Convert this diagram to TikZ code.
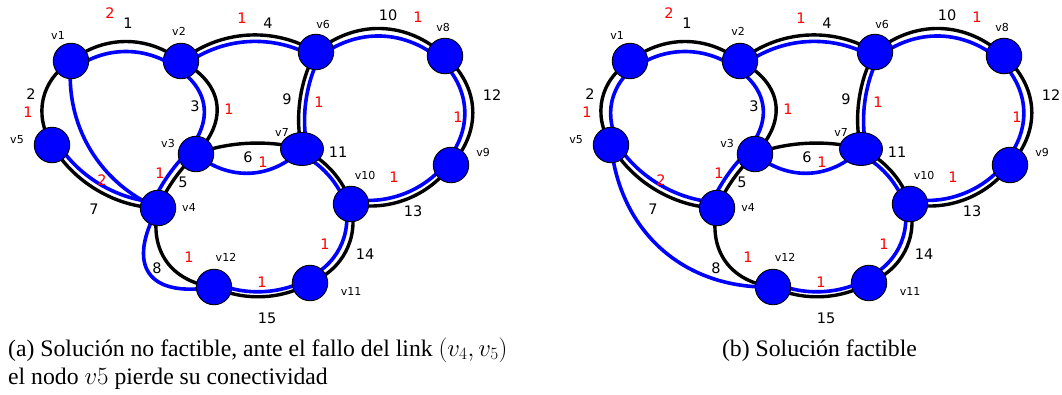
\documentclass[tikz,border=0pt]{standalone}
\usepackage{fontspec}
\setmainfont{Liberation Serif}
\newfontfamily\djv{DejaVu Sans}
\usetikzlibrary{calc,shapes.geometric}
\pgfdeclarelayer{back}
\pgfdeclarelayer{bg}
\pgfsetlayers{back,bg,main}
\definecolor{pblue}{RGB}{0,0,255}
\definecolor{pred}{RGB}{255,0,0}
\tikzset{
  vtx/.style={circle, fill=pblue, draw=black, line width=0.9pt, minimum size=35.5pt, inner sep=0pt},
  vtxe/.style={ellipse, fill=pblue, draw=black, line width=0.9pt, minimum width=43pt, minimum height=33pt, inner sep=0pt},
  vlab/.style={font=\djv\fontsize{11}{13}\selectfont, inner sep=0pt},
  elab/.style={font=\djv\fontsize{14.5}{17}\selectfont, inner sep=0pt},
  rlab/.style={elab, text=pred},
  captxt/.style={font=\fontsize{23.7}{28.4}\selectfont, inner sep=0pt},
  blk/.style={draw=black, line width=3.4pt},
  blu/.style={draw=pblue, line width=3.6pt},
  pc/.style 2 args={to path={($(\tikztostart)!#2!90:(\tikztotarget)$) .. controls ($(\tikztostart)!0.3!(\tikztotarget)!#1!90:(\tikztotarget)$) and ($(\tikztotarget)!0.3!(\tikztostart)!#1!-90:(\tikztostart)$) .. ($(\tikztotarget)!#2!-90:(\tikztostart)$)}},
}
\newcommand{\basegraph}[1]{%
  \node[vtx] (#1v1) at (71,61) {};
  \node[vtx] (#1v2) at (181,61) {};
  \node[vtx] (#1v3) at (196,154) {};
  \node[vtx] (#1v4) at (158,208) {};
  \node[vtx] (#1v5) at (52,145) {};
  \node[vtx] (#1v6) at (316,52) {};
  \node[vtxe] (#1v7) at (302,149) {};
  \node[vtx] (#1v8) at (445,56) {};
  \node[vtx] (#1v9) at (451,165) {};
  \node[vtx] (#1v10) at (351,204) {};
  \node[vtx] (#1v11) at (310,283) {};
  \node[vtx] (#1v12) at (214,287) {};
  % vertex labels
  \node[vlab] (#1l1) at (58,35) {v1};
  \node[vlab] (#1l2) at (179,31) {v2};
  \node[vlab] (#1l3) at (168,143) {v3};
  \node[vlab] (#1l4) at (189,207) {v4};
  \node[vlab] (#1l5) at (17,140) {v5};
  \node[vlab] (#1l6) at (323,24) {v6};
  \node[vlab] (#1l7) at (282,132) {v7};
  \node[vlab] (#1l8) at (443,27) {v8};
  \node[vlab] (#1l9) at (483,152) {v9};
  \node[vlab] (#1l10) at (365,175) {v10};
  \node[vlab] (#1l11) at (351,291) {v11};
  \node[vlab] (#1l12) at (226,257) {v12};
  % edge labels
  \node[elab] (#1e1) at (128,23) {1};
  \node[elab] (#1e2) at (31,94) {2};
  \node[elab] (#1e3) at (195,106) {3};
  \node[elab] (#1e4) at (268,23) {4};
  \node[elab] (#1e5) at (183,182) {5};
  \node[elab] (#1e6) at (248,157) {6};
  \node[elab] (#1e7) at (94,209) {7};
  \node[elab] (#1e8) at (157,268) {8};
  \node[elab] (#1e9) at (287,99) {9};
  \node[elab] (#1e10) at (388,15) {10};
  \node[elab] (#1e11) at (338,152) {11};
  \node[elab] (#1e12) at (492,95) {12};
  \node[elab] (#1e13) at (413,211) {13};
  \node[elab] (#1e14) at (365,254) {14};
  \node[elab] (#1e15) at (267,318) {15};
  % red labels
  \node[rlab] (#1r1) at (110,13) {2};
  \node[rlab] (#1r2) at (28,112) {1};
  \node[rlab] (#1r3) at (229,109) {1};
  \node[rlab] (#1r4) at (242,18) {1};
  \node[rlab] (#1r5) at (160,173) {1};
  \node[rlab] (#1r6) at (263,162) {1};
  \node[rlab] (#1r7) at (102,180) {2};
  \node[rlab] (#1r8) at (189,257) {1};
  \node[rlab] (#1r9) at (319,102) {1};
  \node[rlab] (#1r10) at (418,17) {1};
  \node[rlab] (#1r12) at (458,117) {1};
  \node[rlab] (#1r13) at (394,177) {1};
  \node[rlab] (#1r14) at (325,244) {1};
  \node[rlab] (#1r15) at (262,282) {1};
  \begin{pgfonlayer}{bg}
    \draw[blk] (#1v1.center) to[pc={26pt}{0pt}] (#1v2.center);
    \draw[blk] (#1v1.center) to[pc={-25pt}{0pt}] (#1v5.center);
    \draw[blk] (#1v2.center) to[pc={38pt}{0pt}] (#1v3.center);
    \draw[blk] (#1v2.center) to[pc={28.5pt}{0pt}] (#1v6.center);
    \draw[blk] (#1v3.center) to[pc={-4.5pt}{0pt}] (#1v4.center);
    \draw[blk] (#1v3.center) to[pc={11pt}{0pt}] (#1v7.center);
    \draw[blk] (#1v5.center) to[pc={-21pt}{0pt}] (#1v4.center);
    \draw[blk] (#1v4.center) to[pc={-32pt}{0pt}] (#1v12.center);
    \draw[blk] (#1v6.center) to[pc={-12pt}{0pt}] (#1v7.center);
    \draw[blk] (#1v6.center) to[pc={34pt}{0pt}] (#1v8.center);
    \draw[blk] (#1v7.center) to[pc={10.5pt}{0pt}] (#1v10.center);
    \draw[blk] (#1v8.center) to[pc={33pt}{0pt}] (#1v9.center);
    \draw[blk] (#1v10.center) to[pc={-21pt}{0pt}] (#1v9.center);
    \draw[blk] (#1v10.center) to[pc={23pt}{0pt}] (#1v11.center);
    \draw[blk] (#1v12.center) to[pc={-15.6pt}{0pt}] (#1v11.center);
    % common blue
    \draw[blu] (#1v1.center) to[pc={16pt}{-10pt}] (#1v2.center);
    \draw[blu] (#1v2.center) to[pc={25pt}{-13pt}] (#1v3.center);
    \draw[blu] (#1v2.center) to[pc={22pt}{-6.5pt}] (#1v6.center);
    \draw[blu] (#1v3.center) to[pc={-11.5pt}{-7pt}] (#1v4.center);
    \draw[blu] (#1v3.center) to[pc={-29pt}{0pt}] (#1v7.center);
    \draw[blu] (#1v5.center) to[pc={-14.5pt}{6.5pt}] (#1v4.center);
    \draw[blu] (#1v6.center) to[pc={-6pt}{6pt}] (#1v7.center);
    \draw[blu] (#1v6.center) to[pc={26.5pt}{-7.5pt}] (#1v8.center);
    \draw[blu] (#1v7.center) to[pc={5pt}{-5.5pt}] (#1v10.center);
    \draw[blu] (#1v8.center) to[pc={25pt}{-8pt}] (#1v9.center);
    \draw[blu] (#1v10.center) to[pc={-15pt}{6pt}] (#1v9.center);
    \draw[blu] (#1v10.center) to[pc={16pt}{-7pt}] (#1v11.center);
    \draw[blu] (#1v12.center) to[pc={-10.6pt}{5pt}] (#1v11.center);
  \end{pgfonlayer}
}
\begin{document}
\begin{tikzpicture}[x=1pt,y=-1pt]
  \useasboundingbox (0,0) rectangle (1062,394);
  \begin{pgfonlayer}{back}
    \fill[white] (0,0) rectangle (1062,394);
  \end{pgfonlayer}
  \begin{scope}
    \basegraph{a}
    \begin{pgfonlayer}{bg}
      \draw[blu] (av1.center) to[pc={-38pt}{0pt}] (av4.center);
      \draw[blu] (av4.center) to[pc={-60pt}{0pt}] (av12.center);
    \end{pgfonlayer}
  \end{scope}
  \begin{scope}[xshift=559pt]
    \basegraph{b}
    \begin{pgfonlayer}{bg}
      \draw[blu] (bv1.center) to[pc={-15pt}{10pt}] (bv5.center);
      \draw[blu] (bv5.center) to[pc={-60pt}{0pt}] (bv12.center);
    \end{pgfonlayer}
  \end{scope}
  \node[captxt, anchor=base west] (capa1) at (8,356) {(a) Solución no factible, ante el fallo del link $(v_4, v_5)$};
  \node[captxt, anchor=base west] (capa2) at (8,384) {el nodo $v5$ pierde su conectividad};
  \node[captxt, anchor=base] (capb) at (819.5,356) {(b) Solución factible};
\end{tikzpicture}
\end{document}
